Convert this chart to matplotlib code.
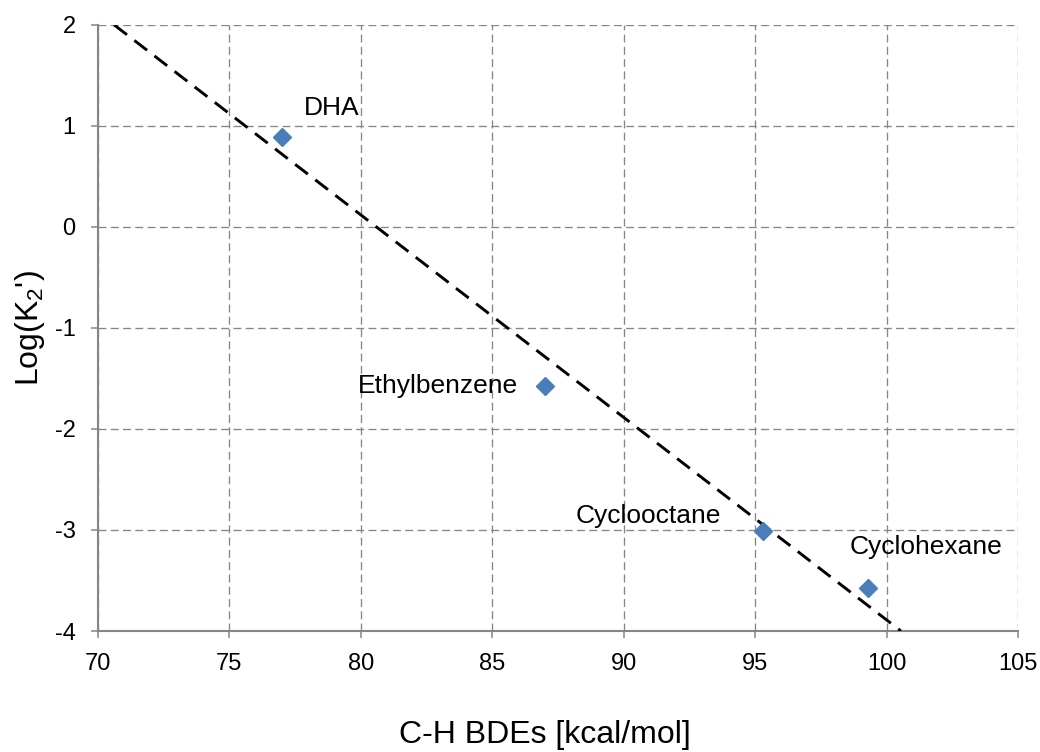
import numpy as np
import matplotlib
matplotlib.use("Agg")
import matplotlib.pyplot as plt

plt.rcParams['font.family'] = ['Liberation Sans', 'DejaVu Sans']
plt.rcParams['mathtext.default'] = 'regular'
plt.rcParams['axes.unicode_minus'] = False

# Data
names = ["DHA", "Ethylbenzene", "Cyclooctane", "Cyclohexane"]
bde = [77.0, 87.0, 95.3, 99.3]
logk = [0.89, -1.57, -3.01, -3.57]
x_ticks = [70, 75, 80, 85, 90, 95, 100, 105]
y_ticks = [-4, -3, -2, -1, 0, 1, 2]

fig = plt.figure(figsize=(10.4, 7.52), dpi=100)
ax = fig.add_axes([0.0942, 0.1609, 0.8846, 0.8059])
ax.set_xlim(70, 105)
ax.set_ylim(-4, 2)

# Trendline (linear fit), drawn across the plot area
slope, intercept = np.polyfit(bde, logk, 1)
y0, y1 = ax.get_ylim()
xl = (np.array([y1, y0]) - intercept) / slope
ax.plot(xl, slope * xl + intercept, color='black', lw=2.1,
        linestyle=(0, (5.5, 3.2)), zorder=3, clip_on=True)

ax.plot(bde, logk, linestyle='none', marker='D', ms=9.5,
        color='#4a7ebb', zorder=4)

offsets = [((16, 21), 'left'), ((-19, 0), 'right'),
           ((-30, 11), 'right'), ((-13, 29), 'left')]
for n, x, y, (off, ha) in zip(names, bde, logk, offsets):
    ax.annotate(n, (x, y), xytext=off, textcoords='offset points',
                ha=ha, va='center', fontsize=19, color='black')

ax.set_xticks(x_ticks)
ax.set_yticks(y_ticks)
ax.grid(True, color='#868686', linestyle=(0, (6, 3.3)), lw=0.95)
ax.set_axisbelow(True)

for s in ['top', 'right']:
    ax.spines[s].set_visible(False)
for s in ['left', 'bottom']:
    ax.spines[s].set_color('#868686')
    ax.spines[s].set_linewidth(1.5)

ax.tick_params(axis='both', direction='out', length=5, width=1.1,
               color='#868686', labelsize=17, labelcolor='black')
ax.tick_params(axis='x', pad=11)
ax.tick_params(axis='y', pad=11)

ax.set_xlabel("C-H BDEs [kcal/mol]", fontsize=23)
ax.set_ylabel("Log(K$_2$')", fontsize=23)
ax.xaxis.set_label_coords(0.486, -0.1716)
ax.xaxis.label.set_va('center')
ax.yaxis.set_label_coords(-0.0739, 0.5)
ax.yaxis.label.set_va('center')

fig.savefig("out.png", dpi=100, facecolor='white')
